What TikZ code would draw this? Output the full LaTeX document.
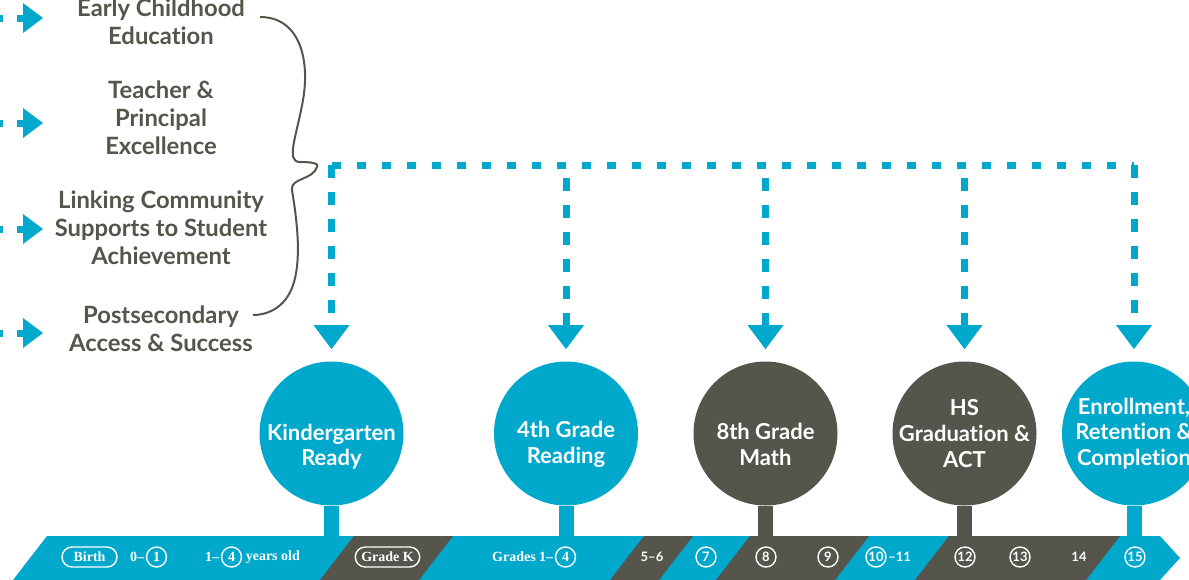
\documentclass[tikz,border=0pt]{standalone}
\usepackage{fontspec}
\setmainfont{Lato}[Ligatures={TeX,NoCommon}]
\newfontfamily\slabfont{Liberation Serif}[Ligatures=TeX]
\usetikzlibrary{arrows.meta,positioning}
\definecolor{tealblue}{RGB}{0,168,204}
\definecolor{slate}{RGB}{85,85,76}

\begin{document}
\begin{tikzpicture}[x=0.5pt,y=-0.5pt,
    goal/.style={circle,minimum size=72pt,inner sep=0pt},
    goaltext/.style={text=white,font=\bfseries\fontsize{11}{12.8}\selectfont,align=center},
    area/.style={text=slate,font=\bfseries\fontsize{11.9}{14}\selectfont,align=center},
    bus/.style={tealblue,line width=3.5pt,dash pattern=on 4.5pt off 8pt},
    drop/.style={tealblue,line width=3.5pt,dash pattern=on 6.5pt off 7pt,-{Triangle[width=18pt,length=12pt,line width=0pt]}},
    feed/.style={tealblue,line width=3.5pt,dash pattern=on 6.5pt off 7pt,-{Triangle[width=15pt,length=10pt,line width=0pt]}},
    stem/.style={line width=7.5pt},
    barslab/.style={text=white,inner sep=0.6pt,font=\slabfont\bfseries\fontsize{7}{8}\selectfont},
    barsans/.style={text=white,inner sep=0.6pt,font=\bfseries\fontsize{6.5}{8}\selectfont},
    numslab/.style={barslab,circle,draw=white,line width=0.7pt,minimum size=10pt,inner sep=0pt},
    numsans/.style={barsans,circle,draw=white,line width=0.7pt,minimum size=10pt,inner sep=0pt},
    pill/.style={barslab,draw=white,line width=0.7pt,rounded corners=5pt,minimum height=10pt,inner xsep=3pt}]
  \useasboundingbox (0,0) rectangle (1189,579);
  \clip (0,0) rectangle (1189,579);

  % focus areas
  \node[area] (ece) at (161,22) {Early Childhood\\Education};
  \node[area] (tpe) at (161,118) {Teacher \&\\Principal\\Excellence};
  \node[area] (lcs) at (161,228) {Linking Community\\Supports to Student\\Achievement};
  \node[area] (psa) at (161,329) {Postsecondary\\Access \& Success};

  % feeding arrows at the left edge
  \coordinate (ece-in) at (43,18);
  \coordinate (tpe-in) at (43,123);
  \coordinate (lcs-in) at (43,229);
  \coordinate (psa-in) at (43,333);
  \foreach \a in {ece,tpe,lcs,psa}
    \draw[feed] (-10,0 |- \a-in) -- (\a-in);

  % brace
  \draw[slate,line width=1pt] (260,17) .. controls (300,17) and (310,60) .. (303,100)
    .. controls (297,135) and (285,162) .. (300,162)
    .. controls (310,162) and (320,163) .. (317,167)
    .. controls (313,180) and (290,178) .. (292,190)
    .. controls (296,215) and (303,260) .. (292,288)
    .. controls (283,310) and (265,315) .. (253,315);

  % goals
  \node[goal,fill=tealblue] (kinder) at (331.5,433.5) {};
  \node[goal,fill=tealblue] (fourth) at (566,433.5) {};
  \node[goal,fill=slate] (eighth) at (765.5,433.5) {};
  \node[goal,fill=slate] (hsgrad) at (964.5,433.5) {};
  \node[goal,fill=tealblue] (enroll) at (1134,433.5) {};
  \node[goaltext] (kinder-l) at ([yshift=-6.5pt]kinder.center) {Kindergarten\\Ready};
  \node[goaltext] (fourth-l) at ([yshift=-5.5pt]fourth.center) {4th Grade\\Reading};
  \node[goaltext] (eighth-l) at ([yshift=-5.5pt]eighth.center) {8th Grade\\Math};
  \node[goaltext] (hsgrad-l) at (hsgrad.center) {HS\\Graduation \&\\ACT};
  \node[goaltext] (enroll-l) at (enroll.center) {Enrollment,\\Retention \&\\Completion};

  % dotted bus and drops
  \coordinate (bw) at (331.5,165);
  \coordinate (be) at (1134,165);
  \draw[bus] (bw) -- (be);
  \draw[drop] (bw) -- ([yshift=6pt]kinder.north);
  \foreach \g in {fourth,eighth,hsgrad}
    \draw[drop] (\g.north |- 0,178) -- ([yshift=6pt]\g.north);
  \draw[drop] (be) -- ([yshift=6pt]enroll.north);

  % stems
  \coordinate (bartop) at (0,537);
  \draw[stem,tealblue] (kinder.south) -- (kinder.south |- bartop);
  \draw[stem,tealblue] (fourth.south) -- (fourth.south |- bartop);
  \draw[stem,slate] (eighth.south) -- (eighth.south |- bartop);
  \draw[stem,slate] (hsgrad.south) -- (hsgrad.south |- bartop);
  \draw[stem,tealblue] (enroll.south) -- (enroll.south |- bartop);

  % timeline bar
  \fill[tealblue] (13,580) -- (47,536) -- (1160,536) -- (1180,558) -- (1160,580) -- cycle;
  \foreach \a/\b in {320/419,610/659,716/835,915/1086}
    \fill[slate] (\a,580) -- (\a+34,536) -- (\b+34,536) -- (\b,580) -- cycle;

  % timeline labels
  \node[pill,minimum width=27.5pt] (birth) at (89.5,557) {Birth};
  \node[numslab] (n1) at (156.5,557) {1};
  \node[barslab,left=0pt of n1] (t0) {0–};
  \node[numslab] (n4a) at (231.5,557) {4};
  \node[barslab,left=0pt of n4a] (t1) {1–};
  \node[barslab,right=1pt of n4a] (yrs) {years old};
  \node[pill,minimum width=25.5pt] (gk) at (387.5,557) {Grade K};
  \node[numslab] (n4b) at (565.5,557) {4};
  \node[barslab,left=0pt of n4b] (g14) {Grades 1–};
  \node[barsans] (g56) at (652,557) {5–6};
  \node[numsans] (n7) at (706,557) {7};
  \node[numsans] (n8) at (766,557) {8};
  \node[numsans] (n9) at (828,557) {9};
  \node[numsans] (n10) at (876,557) {10};
  \node[barsans,right=0pt of n10] (t11) {–11};
  \node[numsans] (n12) at (965,557) {12};
  \node[numsans] (n13) at (1020,557) {13};
  \node[barsans] (g14b) at (1079,557) {14};
  \node[numsans] (n15) at (1135,557) {15};
\end{tikzpicture}
\end{document}
